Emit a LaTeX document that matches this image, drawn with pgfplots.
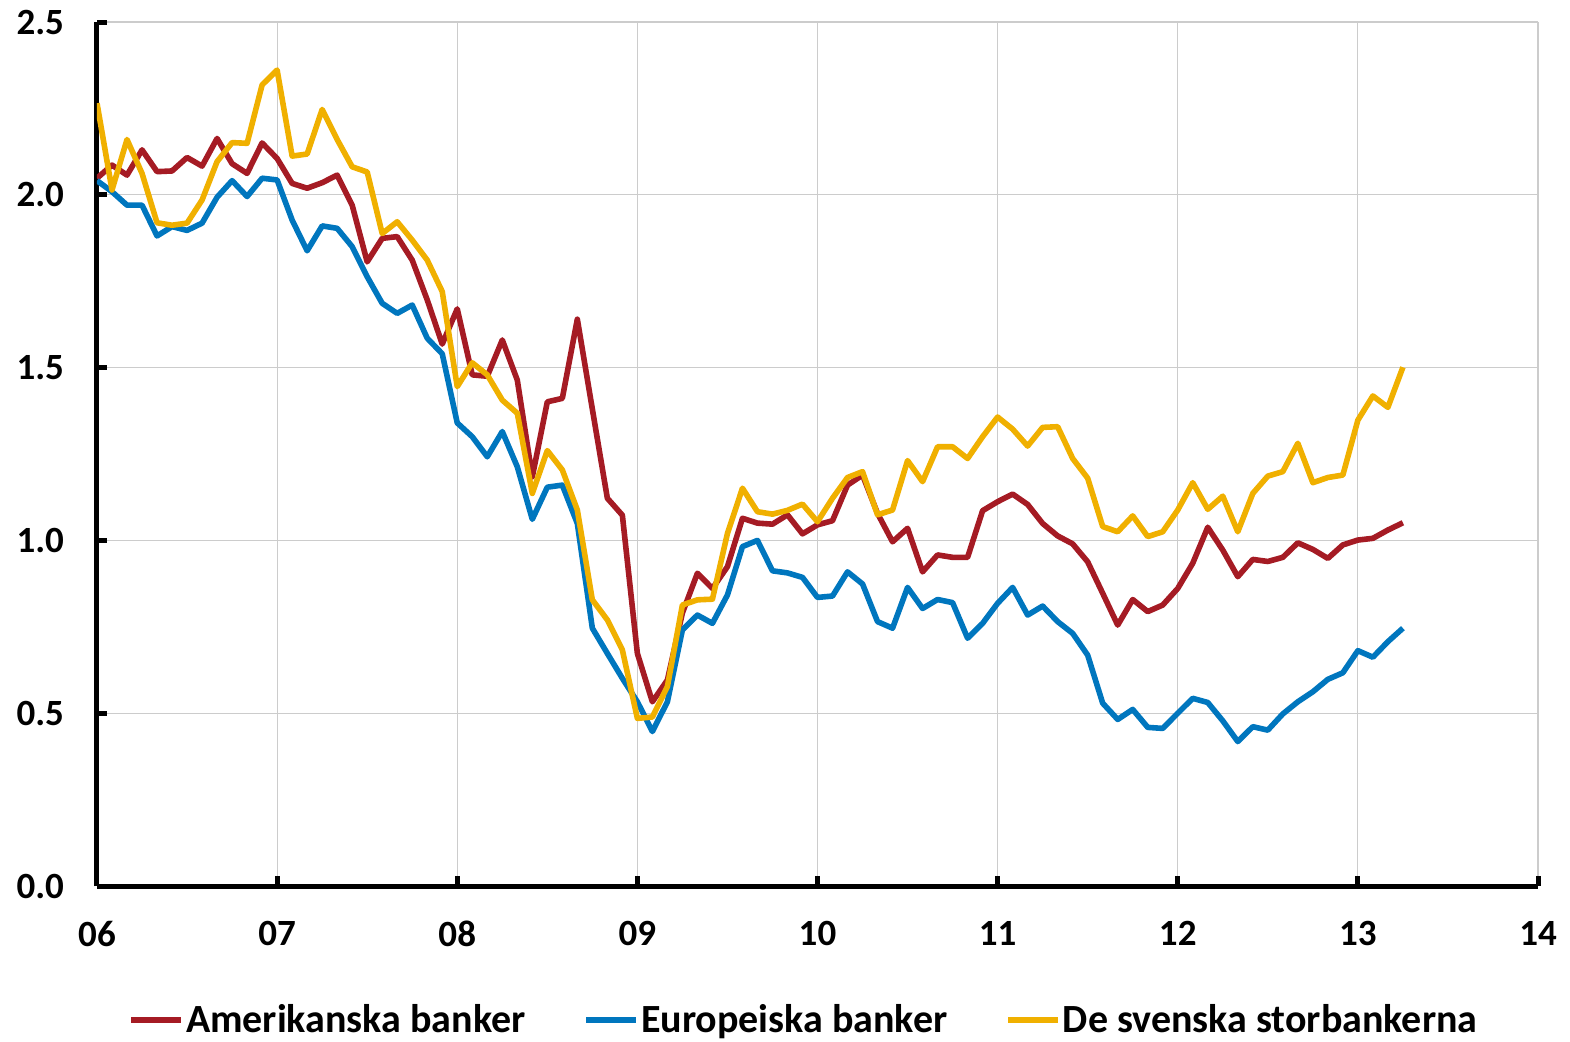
\documentclass[border=0pt]{standalone}
\usepackage{fontspec}
\setmainfont{Carlito}
\usepackage{pgfplots}
\pgfplotsset{compat=1.18}
\usepackage{pgfplotstable}
\definecolor{cus}{RGB}{165,27,36}
\definecolor{ceu}{RGB}{0,118,190}
\definecolor{cse}{RGB}{240,176,0}
\pgfplotstableread{
m us eu se
0 2.048 2.041 2.265
1 2.086 2.009 2.014
2 2.057 1.970 2.160
3 2.130 1.970 2.062
4 2.067 1.881 1.919
5 2.069 1.908 1.912
6 2.108 1.897 1.918
7 2.083 1.918 1.985
8 2.163 1.993 2.096
9 2.090 2.041 2.151
10 2.062 1.995 2.149
11 2.150 2.048 2.318
12 2.105 2.043 2.361
13 2.033 1.927 2.112
14 2.019 1.838 2.118
15 2.035 1.910 2.247
16 2.057 1.903 2.160
17 1.970 1.850 2.081
18 1.806 1.763 2.066
19 1.874 1.686 1.888
20 1.879 1.657 1.922
21 1.811 1.681 1.869
22 1.696 1.585 1.811
23 1.568 1.540 1.720
24 1.670 1.340 1.445
25 1.479 1.300 1.514
26 1.475 1.242 1.479
27 1.580 1.315 1.406
28 1.464 1.213 1.368
29 1.184 1.061 1.136
30 1.401 1.154 1.260
31 1.411 1.160 1.204
32 1.640 1.049 1.088
33 1.380 0.746 0.828
34 1.122 0.673 0.770
35 1.073 0.601 0.683
36 0.673 0.533 0.485
37 0.533 0.447 0.489
38 0.596 0.533 0.577
39 0.790 0.741 0.813
40 0.905 0.784 0.828
41 0.861 0.760 0.830
42 0.924 0.842 1.020
43 1.064 0.982 1.151
44 1.050 1.000 1.083
45 1.047 0.912 1.076
46 1.074 0.906 1.087
47 1.019 0.893 1.105
48 1.045 0.835 1.054
49 1.057 0.839 1.122
50 1.160 0.909 1.182
51 1.189 0.874 1.199
52 1.078 0.765 1.074
53 0.996 0.746 1.088
54 1.035 0.864 1.231
55 0.909 0.803 1.170
56 0.958 0.829 1.271
57 0.951 0.820 1.271
58 0.951 0.717 1.237
59 1.086 0.760 1.300
60 1.112 0.818 1.357
61 1.134 0.864 1.322
62 1.104 0.784 1.273
63 1.049 0.810 1.327
64 1.013 0.765 1.329
65 0.990 0.731 1.237
66 0.938 0.668 1.180
67 0.847 0.529 1.040
68 0.755 0.482 1.025
69 0.829 0.511 1.071
70 0.794 0.459 1.011
71 0.813 0.456 1.025
72 0.861 0.500 1.088
73 0.934 0.543 1.167
74 1.038 0.531 1.090
75 0.972 0.478 1.128
76 0.895 0.418 1.025
77 0.945 0.461 1.136
78 0.939 0.451 1.186
79 0.951 0.498 1.199
80 0.993 0.533 1.281
81 0.974 0.562 1.167
82 0.948 0.598 1.182
83 0.987 0.617 1.189
84 1.001 0.681 1.348
85 1.006 0.662 1.418
86 1.030 0.707 1.385
87 1.051 0.746 1.501
}\data
\begin{document}
\begin{tikzpicture}
\useasboundingbox (-48.5pt,-77.5pt) rectangle (736.5pt,443pt);
\begin{axis}[
  scale only axis, width=720.5pt, height=432pt,
  xmin=6, xmax=14, ymin=0, ymax=2.5,
  axis lines=left,
  axis line style={line width=2.5pt, -},
  xtick={6,7,8,9,10,11,12,13,14},
  xticklabels={06,07,08,09,10,11,12,13,14},
  ytick={0,0.5,1,1.5,2,2.5},
  yticklabel style={/pgf/number format/fixed, /pgf/number format/fixed zerofill, /pgf/number format/precision=1, xshift=-13pt},
  /pgf/number format/assume math mode=true,
  tick label style={font=\bfseries\fontsize{18.5}{18.5}\selectfont},
  tick align=inside,
  major tick length=5pt,
  tick style={line width=2.5pt, black},
  grid=major,
  major grid style={line width=0.6pt, gray!40},
  xticklabel style={yshift=-14pt},
  legend columns=3,
  legend style={at={(0.4906,-0.155)}, anchor=center, draw=none,
    font=\bfseries\fontsize{20}{20}\selectfont,
    /tikz/every even column/.append style={column sep=28pt},
    nodes={inner sep=1pt}},
  legend image code/.code={\draw[#1, line width=2.8pt] (0pt,0pt) -- (25pt,0pt);},
  every axis plot/.append style={line width=2.8pt, line join=round},
]
\addplot[cus, mark=none] table[x expr=6+\thisrow{m}/12, y=us] {\data};
\addlegendentry{Amerikanska banker}
\addplot[ceu, mark=none] table[x expr=6+\thisrow{m}/12, y=eu] {\data};
\addlegendentry{Europeiska banker}
\addplot[cse, mark=none] table[x expr=6+\thisrow{m}/12, y=se] {\data};
\addlegendentry{De svenska storbankerna}
\end{axis}
\end{tikzpicture}
\end{document}
